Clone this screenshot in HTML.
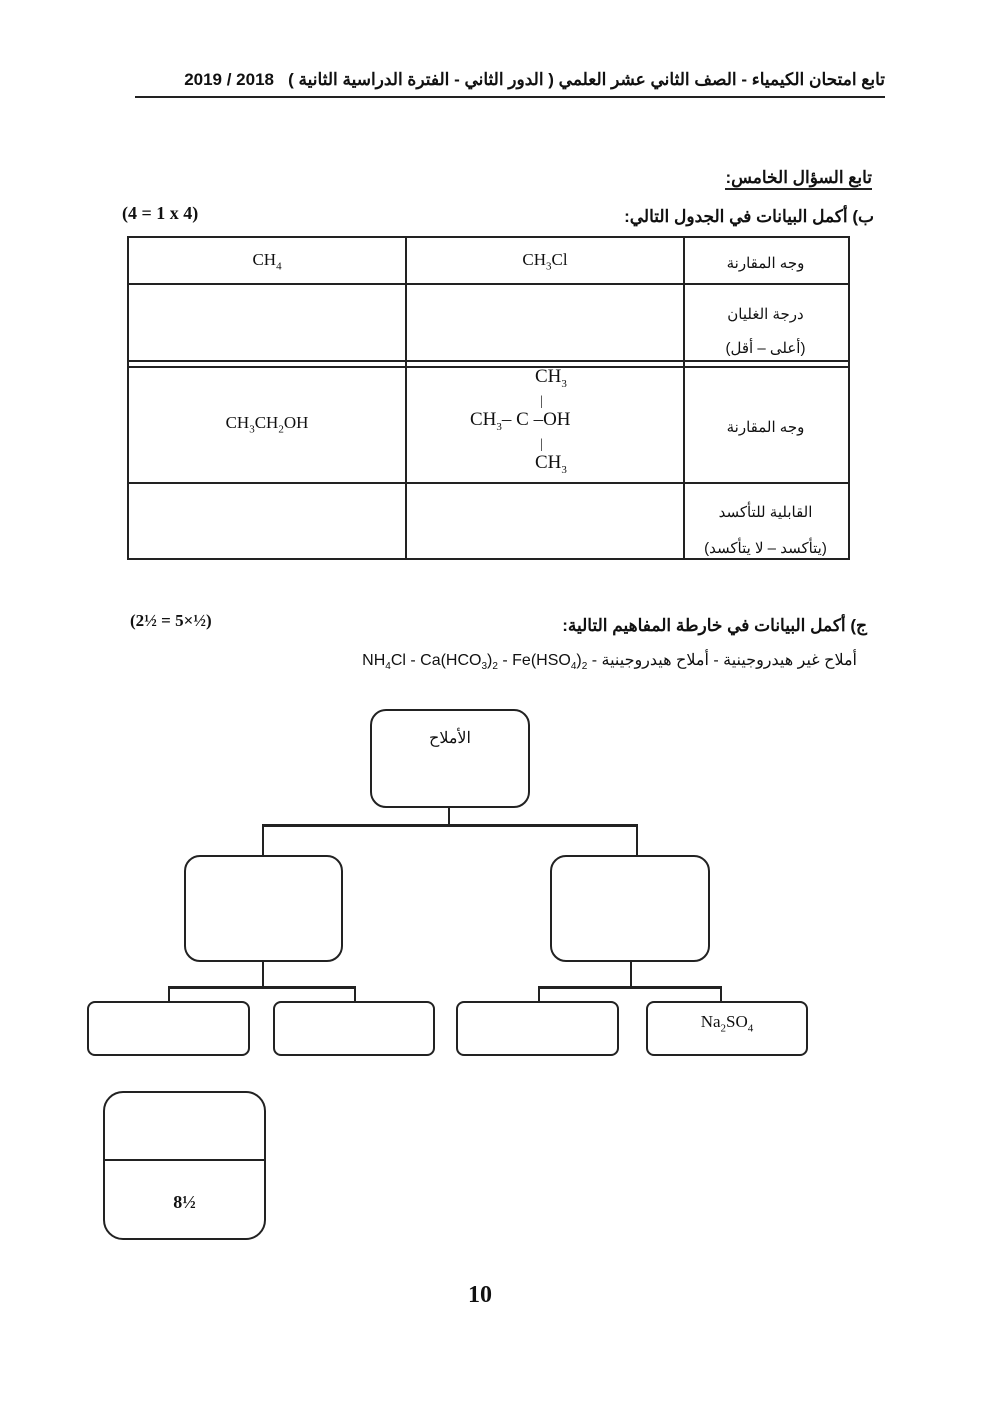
<!DOCTYPE html>
<html><head><meta charset="utf-8"><style>
body{margin:0;background:#fff;}
.p{position:relative;width:992px;height:1403px;font-family:"Liberation Serif","Noto Sans CJK SC",serif;color:#111;}
.a{position:absolute;}
.b{position:absolute;border:2px solid #222;border-radius:16px;}
.h{position:absolute;background:#222;}
.c{position:absolute;text-align:center;font-size:17px;}
.ar{font-family:"Liberation Sans","Noto Sans CJK SC",sans-serif;}
.ltr{direction:ltr;unicode-bidi:bidi-override;}
</style></head><body><div class="p">
<div class="a ar" style="left:135px;top:70px;width:750px;font-size:17px;font-weight:bold;direction:rtl;text-align:right;white-space:nowrap;">تابع امتحان الكيمياء - الصف الثاني عشر العلمي ( الدور الثاني - الفترة الدراسية الثانية )&nbsp;&nbsp; <span class="ltr">2019 / 2018</span></div>
<div class="h" style="left:135px;top:96px;width:750px;height:2px"></div>

<div class="a ar" style="right:120px;top:168px;font-size:17px;font-weight:bold;border-bottom:2px solid #222;direction:rtl">تابع السؤال الخامس:</div>
<div class="a ar" style="right:118px;top:207px;font-size:17px;font-weight:bold;direction:rtl">ب) أكمل البيانات في الجدول التالي:</div>
<div class="a ltr" style="left:122px;top:203px;font-size:18px;font-weight:bold">(4 = 1 x 4)</div>

<div class="a" style="left:127px;top:236px;width:719px;height:320px;border:2px solid #222"></div>
<div class="h" style="left:127px;top:283px;width:721px;height:2px"></div>
<div class="h" style="left:127px;top:360px;width:721px;height:2px"></div>
<div class="h" style="left:127px;top:366px;width:721px;height:2px"></div>
<div class="h" style="left:127px;top:482px;width:721px;height:2px"></div>
<div class="h" style="left:405px;top:236px;width:2px;height:322px"></div>
<div class="h" style="left:683px;top:236px;width:2px;height:322px"></div>

<div class="c" style="left:129px;top:250px;width:276px">CH<sub style="font-size:11px">4</sub></div>
<div class="c" style="left:407px;top:250px;width:276px">CH<sub style="font-size:11px">3</sub>Cl</div>
<div class="c ar" style="left:685px;top:254px;width:161px;font-size:15px">وجه المقارنة</div>
<div class="c ar" style="left:685px;top:298px;width:161px;font-size:15px;line-height:34px">درجة الغليان<br>(أعلى – أقل)</div>
<div class="c" style="left:129px;top:413px;width:276px">CH<sub style="font-size:11px">3</sub>CH<sub style="font-size:11px">2</sub>OH</div>
<div class="a" style="left:470px;top:366px;font-size:19px;line-height:22px;width:160px">
<div style="margin-left:65px">CH<sub style="font-size:11px">3</sub></div>
<div style="margin-left:70px;font-size:14px;line-height:14px">|</div>
<div>CH<sub style="font-size:11px">3</sub>– C –OH</div>
<div style="margin-left:70px;font-size:14px;line-height:14px">|</div>
<div style="margin-left:65px">CH<sub style="font-size:11px">3</sub></div></div>
<div class="c ar" style="left:685px;top:418px;width:161px;font-size:15px">وجه المقارنة</div>
<div class="c ar" style="left:685px;top:495px;width:161px;font-size:15px;line-height:36px">القابلية للتأكسد<br>(يتأكسد – لا يتأكسد)</div>

<div class="a ar" style="right:125px;top:616px;font-size:17px;font-weight:bold;direction:rtl">ج) أكمل البيانات في خارطة المفاهيم التالية:</div>
<div class="a ltr" style="left:130px;top:611px;font-size:17px;font-weight:bold">(2½ = 5×½)</div>
<div class="a ar" style="right:135px;top:650px;font-size:16px;direction:rtl;white-space:nowrap">أملاح غير هيدروجينية - أملاح هيدروجينية - <span class="ltr">NH<sub style="font-size:10px">4</sub>Cl - Ca(HCO<sub style="font-size:10px">3</sub>)<sub style="font-size:10px">2</sub> - Fe(HSO<sub style="font-size:10px">4</sub>)<sub style="font-size:10px">2</sub></span></div>

<div class="b" style="left:370px;top:709px;width:156px;height:95px"></div>
<div class="c ar" style="left:372px;top:728px;width:156px;font-size:16px">الأملاح</div>
<div class="h" style="left:448px;top:806px;width:2px;height:20px"></div>
<div class="h" style="left:262px;top:824px;width:376px;height:3px"></div>
<div class="h" style="left:262px;top:824px;width:2px;height:32px"></div>
<div class="h" style="left:636px;top:824px;width:2px;height:32px"></div>
<div class="b" style="left:184px;top:855px;width:155px;height:103px"></div>
<div class="b" style="left:550px;top:855px;width:156px;height:103px"></div>
<div class="h" style="left:262px;top:960px;width:2px;height:28px"></div>
<div class="h" style="left:168px;top:986px;width:188px;height:3px"></div>
<div class="h" style="left:168px;top:986px;width:2px;height:16px"></div>
<div class="h" style="left:354px;top:986px;width:2px;height:16px"></div>
<div class="h" style="left:630px;top:960px;width:2px;height:28px"></div>
<div class="h" style="left:538px;top:986px;width:184px;height:3px"></div>
<div class="h" style="left:538px;top:986px;width:2px;height:16px"></div>
<div class="h" style="left:720px;top:986px;width:2px;height:16px"></div>
<div class="b" style="left:87px;top:1001px;width:159px;height:51px;border-radius:8px"></div>
<div class="b" style="left:273px;top:1001px;width:158px;height:51px;border-radius:8px"></div>
<div class="b" style="left:456px;top:1001px;width:159px;height:51px;border-radius:8px"></div>
<div class="b" style="left:646px;top:1001px;width:158px;height:51px;border-radius:8px"></div>
<div class="c" style="left:648px;top:1012px;width:158px">Na<sub style="font-size:11px">2</sub>SO<sub style="font-size:11px">4</sub></div>

<div class="b" style="left:103px;top:1091px;width:159px;height:145px;border-radius:20px"></div>
<div class="h" style="left:105px;top:1159px;width:159px;height:2px"></div>
<div class="c" style="left:105px;top:1192px;width:159px;font-size:18px;font-weight:bold">8½</div>

<div class="c" style="left:440px;top:1282px;width:80px;font-size:24px;font-weight:bold">10</div>
</div></body></html>
